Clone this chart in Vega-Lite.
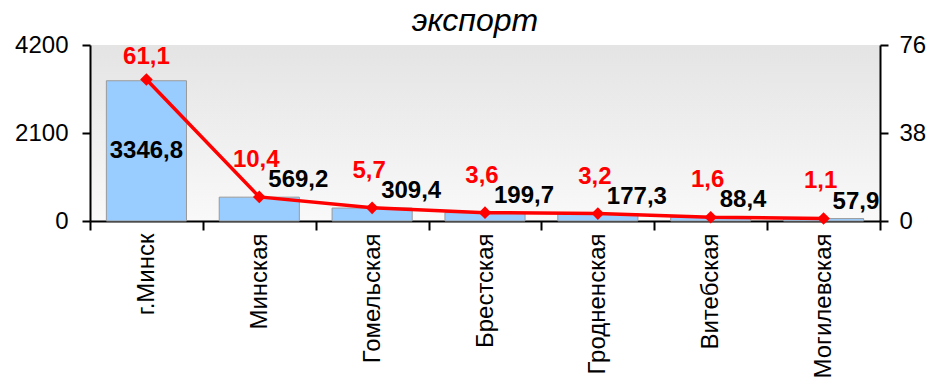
{
  "$schema": "https://vega.github.io/schema/vega-lite/v6.json",
  "width": 790,
  "height": 176,
  "autosize": {"type": "none"},
  "padding": {"left": 90, "top": 45, "right": 51, "bottom": 160},
  "background": "white",
  "config": {
    "font": "Liberation Sans",
    "locale": {"number": {"decimal": ",", "thousands": " ", "grouping": [3], "currency": ["", ""]}},
    "view": {
      "stroke": null,
      "fill": {"gradient": "linear", "x1": 0, "y1": 0, "x2": 0, "y2": 1,
        "stops": [{"offset": 0, "color": "#e4e4e4"}, {"offset": 1, "color": "#f9f9f9"}]}
    },
    "axis": {
      "domainColor": "black", "domainWidth": 2, "tickColor": "black", "tickWidth": 2,
      "labelColor": "black", "labelFont": "Liberation Sans", "grid": false, "title": null
    }
  },
  "title": {
    "text": "экспорт", "font": "Liberation Sans", "fontSize": 32, "fontStyle": "italic",
    "fontWeight": "normal", "color": "black", "anchor": "middle", "offset": -5, "dx": -10
  },
  "data": {
    "values": [
      {"region": "г.Минск", "value": 3346.8, "share": 61.1},
      {"region": "Минская", "value": 569.2, "share": 10.4},
      {"region": "Гомельская", "value": 309.4, "share": 5.7},
      {"region": "Брестская", "value": 199.7, "share": 3.6},
      {"region": "Гродненская", "value": 177.3, "share": 3.2},
      {"region": "Витебская", "value": 88.4, "share": 1.6},
      {"region": "Могилевская", "value": 57.9, "share": 1.1}
    ]
  },
  "encoding": {
    "x": {
      "field": "region", "type": "nominal", "sort": null,
      "scale": {"paddingInner": 0, "paddingOuter": 0},
      "axis": {"labelAngle": -90, "labelAlign": "right", "labelBaseline": "middle",
        "tickBand": "extent", "tickSize": 9, "labelPadding": 3, "labelFontSize": 24}
    }
  },
  "layer": [
    {
      "encoding": {
        "y": {
          "field": "value", "type": "quantitative",
          "scale": {"domain": [0, 4200], "nice": false},
          "axis": {"values": [0, 2100, 4200], "format": "d", "tickSize": 8, "labelPadding": 14, "labelFontSize": 24}
        }
      },
      "layer": [
        {"mark": {"type": "bar", "width": {"band": 0.71}, "fill": "#99ccff", "stroke": "#9a9a9a", "strokeWidth": 1}},
        {
          "transform": [{"filter": "datum.region == 'г.Минск'"}],
          "mark": {"type": "text", "fontSize": 24, "fontWeight": "bold", "color": "black", "dy": 70, "baseline": "middle"},
          "encoding": {
            "text": {"field": "value", "type": "quantitative", "format": ".1f"}
          }
        },
        {
          "transform": [{"filter": "datum.region != 'г.Минск'"}],
          "mark": {"type": "text", "fontSize": 24, "fontWeight": "bold", "color": "black", "align": "left", "dx": 9, "dy": -17, "baseline": "middle"},
          "encoding": {
            "text": {"field": "value", "type": "quantitative", "format": ".1f"}
          }
        }
      ]
    },
    {
      "encoding": {
        "y": {
          "field": "share", "type": "quantitative",
          "scale": {"domain": [0, 76], "nice": false},
          "axis": {"orient": "right", "values": [0, 38, 76], "format": "d", "tickSize": 8, "labelPadding": 11, "labelFontSize": 24}
        }
      },
      "layer": [
        {"mark": {"type": "line", "color": "#ff0000", "strokeWidth": 3.5,
          "point": {"shape": "diamond", "size": 160, "filled": true, "color": "#ff0000"}}},
        {
          "transform": [{"filter": "datum.region == 'г.Минск'"}],
          "mark": {"type": "text", "fontSize": 24, "fontWeight": "bold", "color": "#ff0000", "dy": -23, "baseline": "middle"},
          "encoding": {
            "text": {"field": "share", "type": "quantitative", "format": ".1f"}
          }
        },
        {
          "transform": [{"filter": "datum.region != 'г.Минск'"}],
          "mark": {"type": "text", "fontSize": 24, "fontWeight": "bold", "color": "#ff0000", "dy": -37, "dx": -3, "baseline": "middle"},
          "encoding": {
            "text": {"field": "share", "type": "quantitative", "format": ".1f"}
          }
        }
      ]
    }
  ],
  "resolve": {"scale": {"y": "independent"}}
}
